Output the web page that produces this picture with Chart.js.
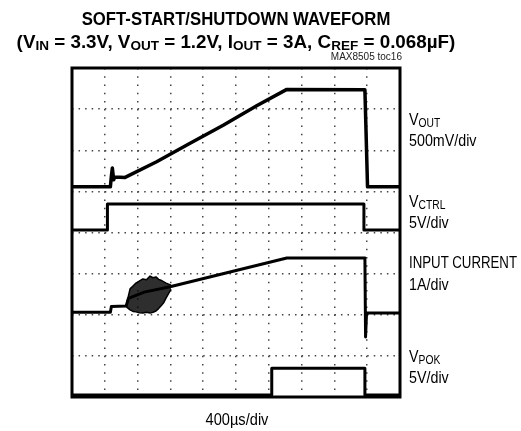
<!DOCTYPE html>
<html>
<head>
<meta charset="utf-8">
<script src="https://cdn.jsdelivr.net/npm/chart.js@4.4.1/dist/chart.umd.min.js"></script>
<style>
  html, body { margin: 0; padding: 0; background: #fff; }
  #wrap {
    position: relative; width: 521px; height: 431px; overflow: hidden;
    font-family: "Liberation Sans", Arial, sans-serif;
    color: #000;
  }
  canvas { position: absolute; left: 0; top: 0; }
  .t { position: absolute; white-space: nowrap; line-height: 1; }
  .title {
    font-weight: bold; font-size: 19px; left: 0; width: 472px; text-align: center;
    transform: scaleX(0.88); transform-origin: 236px 0;
  }
  .title.wide { transform: scaleX(0.99); }
  .lab { font-size: 17px; left: 409px; transform: scaleX(0.84); transform-origin: 0 0; }
  .lab.caps { transform: scaleX(0.78); }
  .sub { font-size: 72%; position: relative; top: 2px; }
  .note { font-size: 10px; right: 119px; color: #222; }
  .xlab { left: 0; width: 474px; text-align: center; font-size: 17px; transform: scaleX(0.86); transform-origin: 237px 0; }
</style>
</head>
<body>
<div id="wrap">
  <canvas id="scope" width="521" height="431"></canvas>
  <div class="t title" style="top:9px">SOFT-START/SHUTDOWN WAVEFORM</div>
  <div class="t title wide" style="top:32px">(V<span class="sub">IN</span> = 3.3V, V<span class="sub">OUT</span> = 1.2V, I<span class="sub">OUT</span> = 3A, C<span class="sub">REF</span> = 0.068µF)</div>
  <div class="t note" style="top:52px">MAX8505 toc16</div>
  <div class="t lab" style="top:111px">V<span class="sub">OUT</span></div>
  <div class="t lab" style="top:132px">500mV/div</div>
  <div class="t lab" style="top:193px">V<span class="sub">CTRL</span></div>
  <div class="t lab" style="top:214px">5V/div</div>
  <div class="t lab caps" style="top:254px">INPUT CURRENT</div>
  <div class="t lab" style="top:276px">1A/div</div>
  <div class="t lab" style="top:348px">V<span class="sub">POK</span></div>
  <div class="t lab" style="top:369px">5V/div</div>
  <div class="t xlab" style="top:411px">400µs/div</div>
</div>
<script>
// time in divisions (0-10), level in divisions (0-8, from bottom)
const voutX = [0, 1.17, 1.20, 1.23, 1.27, 1.30, 1.62, 2.58, 3.60, 4.61, 5.63, 6.55, 8.93, 9.01, 10];
const voutY = [5.11, 5.11, 5.37, 5.57, 5.28, 5.35, 5.34, 5.72, 6.17, 6.61, 7.08, 7.48, 7.47, 5.11, 5.11];

const ctrlX = [0, 1.08, 1.08, 8.90, 8.90, 10];
const ctrlY = [4.06, 4.06, 4.69, 4.69, 4.06, 4.06];

const iinX = [0, 1.17, 1.20, 1.65, 1.72, 2.20, 2.99, 6.55, 8.93, 8.95, 8.98, 10];
const iinY = [2.06, 2.06, 2.20, 2.21, 2.40, 2.55, 2.68, 3.38, 3.38, 1.46, 2.04, 2.04];

// switching burst at start-up: upper and lower envelope
const burstX = [1.66, 1.77, 1.86, 1.95, 2.05, 2.16, 2.27, 2.38, 2.47, 2.56, 2.64, 2.71, 2.80, 2.87, 3.02];
const burstTop = [2.25, 2.63, 2.70, 2.77, 2.82, 2.87, 2.85, 2.94, 2.90, 2.92, 2.86, 2.84, 2.80, 2.77, 2.72];
const burstLow = [2.19, 2.12, 2.08, 2.07, 2.05, 2.04, 2.06, 2.04, 2.06, 2.09, 2.15, 2.21, 2.30, 2.41, 2.62];

const pokX = [0, 6.09, 6.09, 8.93, 8.93, 10];
const pokY = [0.05, 0.05, 0.70, 0.70, 0.05, 0.05];

const pts = (xs, ys) => xs.map((x, i) => ({ x, y: ys[i] }));

const framePlugin = {
  id: 'frame',
  afterDatasetsDraw(chart) {
    const { ctx, chartArea: a } = chart;
    ctx.save();
    ctx.lineWidth = 3;
    ctx.strokeStyle = '#000';
    ctx.strokeRect(a.left, a.top, a.right - a.left, a.bottom - a.top);
    ctx.restore();
  },
};

new Chart(document.getElementById('scope'), {
  type: 'line',
  data: {
    datasets: [
      { data: pts(burstX, burstTop), borderWidth: 1.5, fill: '+1', backgroundColor: 'rgba(0,0,0,0.82)' },
      { data: pts(burstX, burstLow), borderWidth: 1.5, fill: false },
      { data: pts(voutX, voutY), borderWidth: 3.5 },
      { data: pts(ctrlX, ctrlY) },
      { data: pts(iinX, iinY) },
      { data: pts(pokX, pokY) },
    ],
  },
  options: {
    responsive: false,
    animation: false,
    layout: { padding: { left: 72, right: 121, top: 68, bottom: 34 } },
    plugins: { legend: { display: false }, tooltip: { enabled: false } },
    elements: {
      point: { radius: 0 },
      line: { tension: 0, borderWidth: 3, borderColor: '#000', borderJoinStyle: 'round', fill: false },
    },
    scales: {
      x: {
        type: 'linear', min: 0, max: 10,
        ticks: { stepSize: 1, display: false },
        grid: { color: '#444', lineWidth: 1.5, drawTicks: false },
        border: { display: false, dash: [1.5, 6.72] },
      },
      y: {
        type: 'linear', min: 0, max: 8,
        ticks: { stepSize: 1, display: false },
        grid: { color: '#444', lineWidth: 1.5, drawTicks: false },
        border: { display: false, dash: [1.5, 5.06] },
      },
    },
  },
  plugins: [framePlugin],
});
</script>
</body>
</html>
